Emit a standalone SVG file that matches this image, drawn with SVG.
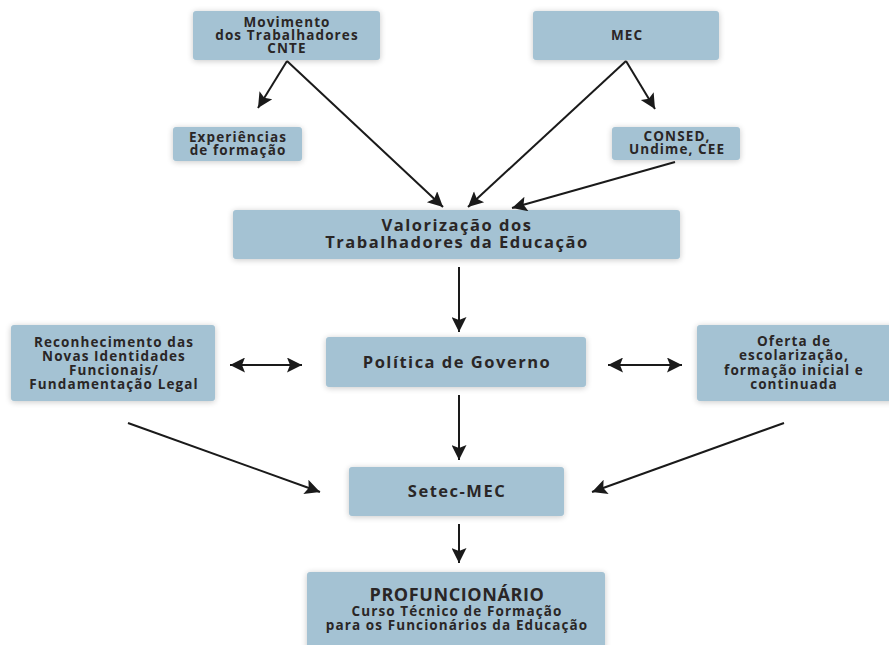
<svg xmlns="http://www.w3.org/2000/svg" width="889" height="645" viewBox="0 0 889 645">
<defs>
<filter id="sh" x="-10%" y="-20%" width="120%" height="150%">
<feGaussianBlur in="SourceAlpha" stdDeviation="3"/>
<feOffset dx="0" dy="1" result="b"/>
<feComponentTransfer><feFuncA type="linear" slope="0.22"/></feComponentTransfer>
<feMerge><feMergeNode/><feMergeNode in="SourceGraphic"/></feMerge>
</filter>
<marker id="ah2" viewBox="0 0 10 10" refX="10" refY="5" markerWidth="19" markerHeight="15" markerUnits="userSpaceOnUse" orient="auto-start-reverse">
<path d="M0,0 L10,5 L0,10 L2,5 z" fill="#1a1a1a"/>
</marker>
</defs>
<style>
.box{fill:#a4c2d3;filter:url(#sh)}
text{font-family:"Open Sans","Noto Sans","DejaVu Sans",sans-serif;font-weight:700;fill:#2a2626;text-anchor:middle}
.s{font-size:13.5px;letter-spacing:1.1px}
.m{font-size:16.5px;letter-spacing:1.5px}
.t{font-size:18px;letter-spacing:0.6px}
.c line{stroke:#1a1a1a;stroke-width:2;marker-end:url(#ah2)}
.c .d{marker-start:url(#ah2)}
</style>
<rect width="889" height="645" fill="#ffffff"/>
<g id="movimento"><rect class="box" x="193" y="11" width="187" height="49" rx="3"/>
<text class="s" x="287" y="27">Movimento</text><text class="s" x="287" y="40">dos Trabalhadores</text><text class="s" x="287" y="53">CNTE</text></g>
<g id="mec"><rect class="box" x="533" y="11" width="186" height="49" rx="3"/>
<text class="s" x="627" y="40">MEC</text></g>
<g id="experiencias"><rect class="box" x="173" y="127" width="129" height="34" rx="3"/>
<text class="s" x="238" y="142">Experiências</text><text class="s" x="238" y="155">de formação</text></g>
<g id="consed"><rect class="box" x="612" y="127" width="128" height="33" rx="3"/>
<text class="s" x="677" y="141">CONSED,</text><text class="s" x="677" y="154">Undime, CEE</text></g>
<g id="valorizacao"><rect class="box" x="233" y="210" width="447" height="49" rx="3"/>
<text class="m" x="457" y="231">Valorização dos</text><text class="m" x="457" y="248">Trabalhadores da Educação</text></g>
<g id="reconhecimento"><rect class="box" x="11" y="325" width="204" height="76" rx="3"/>
<text class="s" x="114" y="347">Reconhecimento das</text><text class="s" x="114" y="361">Novas Identidades</text><text class="s" x="114" y="375">Funcionais/</text><text class="s" x="114" y="389">Fundamentação Legal</text></g>
<g id="politica"><rect class="box" x="326" y="337" width="260" height="50" rx="3"/>
<text class="m" x="457" y="368">Política de Governo</text></g>
<g id="oferta"><rect class="box" x="697" y="325" width="200" height="76" rx="3"/>
<text class="s" x="794" y="346">Oferta de</text><text class="s" x="794" y="360">escolarização,</text><text class="s" x="794" y="375">formação inicial e</text><text class="s" x="794" y="389">continuada</text></g>
<g id="setec"><rect class="box" x="349" y="467" width="215" height="49" rx="3"/>
<text class="m" x="457" y="497">Setec-MEC</text></g>
<g id="profuncionario"><rect class="box" x="307" y="572" width="298" height="80" rx="3"/>
<text class="t" x="457" y="601">PROFUNCIONÁRIO</text><text class="s" x="457" y="616">Curso Técnico de Formação</text><text class="s" x="457" y="630">para os Funcionários da Educação</text></g>
<g class="c" id="connectors">
<line x1="287" y1="61" x2="258" y2="108"/>
<line x1="287" y1="61" x2="443" y2="207"/>
<line x1="626" y1="61" x2="655" y2="109"/>
<line x1="626" y1="61" x2="468" y2="207"/>
<line x1="675" y1="162" x2="512" y2="208"/>
<line x1="459" y1="267" x2="459" y2="332"/>
<line x1="459" y1="395" x2="459" y2="460"/>
<line x1="459" y1="524" x2="459" y2="563"/>
<line x1="128" y1="423" x2="320" y2="492"/>
<line x1="784" y1="423" x2="592" y2="492"/>
<line class="d" x1="230" y1="365" x2="302" y2="365"/>
<line class="d" x1="608" y1="365" x2="682" y2="365"/>
</g>
</svg>
